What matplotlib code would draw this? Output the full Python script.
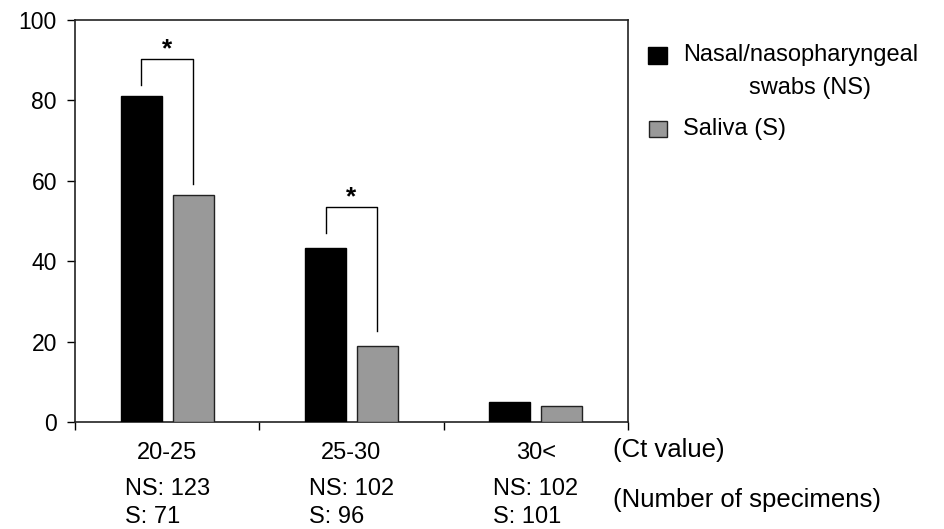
import matplotlib
matplotlib.use("Agg")
import matplotlib.pyplot as plt
import matplotlib.transforms as mtransforms
from matplotlib.patches import Rectangle
import numpy as np

plt.rcParams['font.family'] = ['Liberation Sans', 'DejaVu Sans']

categories = ["20-25", "25-30", "30<"]
ns_values = [81.1, 43.3, 5.0]
s_values = [56.5, 18.9, 4.0]
ns_counts = [123, 102, 102]
s_counts = [71, 96, 101]
series_labels = ["Nasal/nasopharyngeal\nswabs (NS)", "Saliva (S)"]
# significance brackets: (category index, left bottom, top, right bottom)
brackets = [(0, 83.8, 90.3, 59.2), (1, 47.0, 53.5, 22.6)]
yticks = [0, 20, 40, 60, 80, 100]

FS = 17
W, H = 944, 529
fig = plt.figure(figsize=(W / 100, H / 100), dpi=100)
ax = fig.add_axes([75 / W, (H - 422) / H, 553 / W, 402 / H])

x = np.arange(len(categories)) + 0.5
bw = 0.222
off = 0.141
ax.bar(x - off, ns_values, bw, color="black", edgecolor="black", linewidth=1.0, zorder=3)
ax.bar(x + off, s_values, bw, color="#999999", edgecolor="#222222", linewidth=1.0, zorder=3)

for ci, lb, top, rb in brackets:
    xl = x[ci] - off
    xr = x[ci] + off
    ax.plot([xl, xl, xr, xr], [lb, top, top, rb], color="black", lw=1.0, zorder=4)
    ax.text((xl + xr) / 2, top + 0.7, "*", ha="center", va="baseline", fontsize=19,
            fontweight="bold")

ax.set_xlim(0, 3)
ax.set_ylim(0, 100)
ax.set_yticks(yticks)
ax.set_xticks([0, 1, 2, 3])
ax.set_xticklabels([])
ax.tick_params(axis="y", direction="out", length=6, width=1.0, labelsize=16.5, pad=7)
ax.tick_params(axis="x", direction="out", length=6, width=1.0)
for sp in ax.spines.values():
    sp.set_linewidth(1.2)
    sp.set_color("#222222")

trans = mtransforms.blended_transform_factory(ax.transData, ax.transAxes)
for i, c in enumerate(categories):
    ax.text(x[i], -0.077, c, transform=trans, ha="center", va="center", fontsize=FS)
    ax.text(x[i] - 0.23, -0.167, f"NS: {ns_counts[i]}", transform=trans, ha="left", va="center", fontsize=FS)
    ax.text(x[i] - 0.23, -0.236, f"S: {s_counts[i]}", transform=trans, ha="left", va="center", fontsize=FS)

fig.text(613 / W, 1 - 450 / H, "(Ct value)", ha="left", va="center", fontsize=18.5)
fig.text(613 / W, 1 - 500 / H, "(Number of specimens)", ha="left", va="center", fontsize=18.5)

# legend
fig.patches.append(Rectangle((648 / W, 1 - 64 / H), 19 / W, 17 / H, transform=fig.transFigure,
                             facecolor="black", edgecolor="black", lw=1.0))
fig.patches.append(Rectangle((649 / W, 1 - 137 / H), 18 / W, 16 / H, transform=fig.transFigure,
                             facecolor="#999999", edgecolor="#222222", lw=1.0))
fig.text(683 / W, 1 - 55 / H, series_labels[0].split("\n")[0], ha="left", va="center", fontsize=FS)
fig.text(810 / W, 1 - 88 / H, series_labels[0].split("\n")[1], ha="center", va="center", fontsize=FS)
fig.text(683 / W, 1 - 129 / H, series_labels[1], ha="left", va="center", fontsize=FS)

fig.savefig("out.png", dpi=100)
